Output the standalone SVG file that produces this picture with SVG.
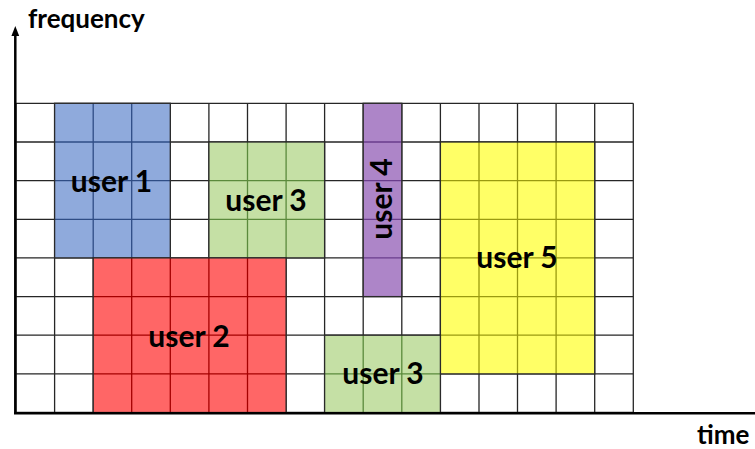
<svg xmlns="http://www.w3.org/2000/svg" width="755" height="449" viewBox="0 0 755 449">
<style>
.grid{fill:none;stroke:#262626;stroke-width:1.3}
.edge{fill:none;stroke:#2a2a2a;stroke-width:1.3}
.lbl{font-family:Lato,"Open Sans","Liberation Sans",sans-serif;font-weight:bold;font-size:30px;fill:#000;text-anchor:middle}
.axl{font-family:Lato,"Open Sans","Liberation Sans",sans-serif;font-weight:bold;font-size:26px;fill:#000}
.axis{stroke:#000;stroke-width:2.5;fill:none}
</style>
<rect width="755" height="449" fill="#fff"/>
<g id="grid">
<rect x="16" y="103.3" width="617.3" height="309.2" fill="#fff"/>
<path class="grid" d="M16 103.3V412.5M54.6 103.3V412.5M93.2 103.3V412.5M131.7 103.3V412.5M170.3 103.3V412.5M208.9 103.3V412.5M247.5 103.3V412.5M286.1 103.3V412.5M324.6 103.3V412.5M363.2 103.3V412.5M401.8 103.3V412.5M440.4 103.3V412.5M479 103.3V412.5M517.5 103.3V412.5M556.1 103.3V412.5M594.7 103.3V412.5M633.3 103.3V412.5M16 103.3H633.3M16 142H633.3M16 180.6H633.3M16 219.3H633.3M16 257.9H633.3M16 296.6H633.3M16 335.2H633.3M16 373.9H633.3M16 412.5H633.3"/>
</g>
<g id="user1">
<rect x="54.6" y="103.3" width="115.7" height="154.6" fill="#8faadc"/>
<path d="M93.2 103.3V257.9M131.7 103.3V257.9M54.6 142H170.3M54.6 180.6H170.3M54.6 219.3H170.3" stroke="#2f4d85" stroke-width="1.3" fill="none"/>
<rect class="edge" x="54.6" y="103.3" width="115.7" height="154.6"/>
<text class="lbl" x="111.5" y="192">user 1</text>
</g>
<g id="user3a">
<rect x="208.9" y="142" width="115.7" height="115.9" fill="#c5e0a5"/>
<path d="M247.5 142V257.9M286.1 142V257.9M208.9 180.6H324.6M208.9 219.3H324.6" stroke="#5b8a3c" stroke-width="1.3" fill="none"/>
<rect class="edge" x="208.9" y="142" width="115.7" height="115.9"/>
<text class="lbl" x="266" y="211">user 3</text>
</g>
<g id="user4">
<rect x="363.2" y="103.3" width="38.6" height="193.3" fill="#ad85c8"/>
<path d="M363.2 142H401.8M363.2 180.6H401.8M363.2 219.3H401.8M363.2 257.9H401.8" stroke="#6a3d8c" stroke-width="1.3" fill="none"/>
<rect class="edge" x="363.2" y="103.3" width="38.6" height="193.3"/>
<text class="lbl" transform="translate(392 199) rotate(-90)" x="0" y="0">user 4</text>
</g>
<g id="user5">
<rect x="440.4" y="142" width="154.3" height="231.9" fill="#ffff66"/>
<path d="M479 142V373.9M517.5 142V373.9M556.1 142V373.9M440.4 180.6H594.7M440.4 219.3H594.7M440.4 257.9H594.7M440.4 296.6H594.7M440.4 335.2H594.7" stroke="#9a9a10" stroke-width="1.3" fill="none"/>
<rect class="edge" x="440.4" y="142" width="154.3" height="231.9"/>
<text class="lbl" x="517" y="267.5">user 5</text>
</g>
<g id="user2">
<rect x="93.2" y="257.9" width="192.9" height="154.6" fill="#ff6666"/>
<path d="M131.7 257.9V412.5M170.3 257.9V412.5M208.9 257.9V412.5M247.5 257.9V412.5M93.2 296.6H286.1M93.2 335.2H286.1M93.2 373.9H286.1" stroke="#a50000" stroke-width="1.3" fill="none"/>
<rect class="edge" x="93.2" y="257.9" width="192.9" height="154.6"/>
<text class="lbl" x="189" y="347">user 2</text>
</g>
<g id="user3b">
<rect x="324.6" y="335.2" width="115.8" height="77.3" fill="#c5e0a5"/>
<path d="M363.2 335.2V412.5M401.8 335.2V412.5M324.6 373.9H440.4" stroke="#5b8a3c" stroke-width="1.3" fill="none"/>
<rect class="edge" x="324.6" y="335.2" width="115.8" height="77.3"/>
<text class="lbl" x="383" y="384">user 3</text>
</g>
<g id="connectors">
<path class="axis" d="M15.3 413.3V34"/>
<polygon points="15.3,26 11.4,36 19.2,36" fill="#000"/>
<path class="axis" d="M14 413.3H755"/>
</g>
<g id="labels">
<text class="axl" x="28" y="28">frequency</text>
<text class="axl" x="697" y="444">time</text>
</g>
</svg>
